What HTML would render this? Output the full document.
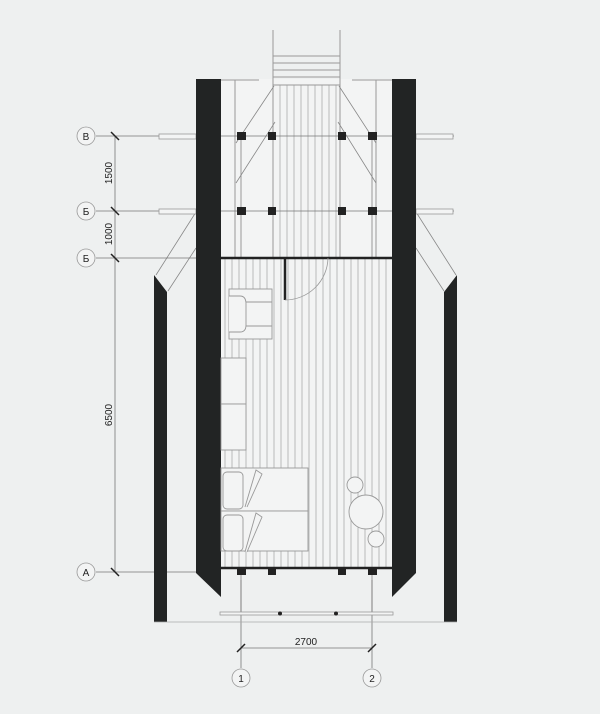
<!DOCTYPE html>
<html><head><meta charset="utf-8"><style>
html,body{margin:0;padding:0;background:#eef0f0;}
svg{display:block}
text{font-family:"Liberation Sans",sans-serif;fill:#222;}
</style></head><body>
<svg width="600" height="714" viewBox="0 0 600 714" xmlns="http://www.w3.org/2000/svg">
<rect width="600" height="714" fill="#eef0f0"/>
<!-- light interior between walls -->
<rect x="220" y="79" width="172" height="489" fill="#f3f4f4"/>
<!-- floor hatch room -->
<g stroke="#b8baba" stroke-width="1">
<path d="M225 258V568M232 258V568M239 258V568M246 258V568M253 258V568M260 258V568M267 258V568M274 258V568M281 258V568M288 258V568M295 258V568M302 258V568M309 258V568M316 258V568M323 258V568M330 258V568M337 258V568M344 258V568M351 258V568M358 258V568M365 258V568M372 258V568M379 258V568M386 258V568"/>
<!-- deck hatch -->
<path d="M280 85V258M287 85V258M294 85V258M301 85V258M308 85V258M315 85V258M322 85V258M329 85V258M336 85V258"/>
</g>
<!-- stairs -->
<g stroke="#999" stroke-width="1" fill="none">
<path d="M273 30V258M340 30V258M273 56H340M273 63H340M273 70H340M273 77H340M273 85H340"/>
<path d="M235 80V258M376 80V258M220 80H259M352 80H392"/>
<path d="M241 136V258M372 136V258M241 572V615M372 572V615"/>
</g>
<!-- diagonals -->
<g stroke="#888" stroke-width="0.8" fill="none">
<path d="M274 86L236 143M275 122L236 183M339 86L376 143M338 122L376 183"/>
<path d="M196 212L156 275M196 248L168 291M416 212L456 275M416 248L444 291"/>
</g>
<!-- grid lines -->
<g stroke="#777" stroke-width="0.8">
<path d="M96 136H454M96 211H454M96 258H220M96 572H196"/>
<path d="M241 580V668M372 580V668"/>
<path d="M115 136V572M241 648H372"/>
</g>
<!-- bars -->
<g fill="#f3f4f4" stroke="#999" stroke-width="0.8">
<rect x="159" y="134" width="37" height="5"/><rect x="159" y="209" width="37" height="5"/>
<rect x="416" y="134" width="37" height="5"/><rect x="416" y="209" width="37" height="5"/>
</g>
<!-- walls -->
<g fill="#222424">
<polygon points="196,79 221,79 221,597 196,573"/>
<polygon points="392,79 416,79 416,573 392,597"/>
<polygon points="154,275 167,292 167,622 154,622"/>
<polygon points="457,275 444,292 444,622 457,622"/>
</g>
<!-- room lines -->
<g stroke="#222" stroke-width="2.5" fill="none">
<path d="M221 258H392M221 568H392M285 258V300"/>
</g>
<path d="M285 300A43 43 0 0 0 328 258" stroke="#999" fill="none" stroke-width="0.8"/>
<!-- columns -->
<g fill="#222">
<rect x="237" y="132" width="9" height="8"/><rect x="268" y="132" width="8" height="8"/><rect x="338" y="132" width="8" height="8"/><rect x="368" y="132" width="9" height="8"/>
<rect x="237" y="207" width="9" height="8"/><rect x="268" y="207" width="8" height="8"/><rect x="338" y="207" width="8" height="8"/><rect x="368" y="207" width="9" height="8"/>
<rect x="237" y="569" width="9" height="6"/><rect x="268" y="569" width="8" height="6"/><rect x="338" y="569" width="8" height="6"/><rect x="368" y="569" width="9" height="6"/>
</g>
<!-- bottom rail -->
<rect x="220" y="612" width="173" height="3" fill="#f3f4f4" stroke="#999" stroke-width="0.8"/>
<circle cx="280" cy="613.5" r="2" fill="#222"/><circle cx="336" cy="613.5" r="2" fill="#222"/>
<path d="M154 622H457" stroke="#aaa" stroke-width="0.8"/>
<!-- furniture -->
<g fill="#f3f4f4" stroke="#999" stroke-width="0.9">
<rect x="229" y="289" width="43" height="50"/>
<path d="M229 296H240Q246 296 246 304V325Q246 332 240 332H229"/>
<path d="M246 302H272M246 326H272"/>
<rect x="221" y="358" width="25" height="46"/><rect x="221" y="404" width="25" height="46"/>
<rect x="221" y="468" width="87" height="43"/><rect x="221" y="511" width="87" height="40"/>
<rect x="223" y="472" width="20" height="37" rx="4"/><rect x="223" y="515" width="20" height="36" rx="4"/>
<path d="M245 507L256 470L262 474L247 507M245 552L256 513L262 517L247 552"/>
<circle cx="366" cy="512" r="17"/>
<circle cx="355" cy="485" r="8"/><circle cx="376" cy="539" r="8"/>
</g>
<!-- ticks -->
<g stroke="#222" stroke-width="1.5">
<path d="M111 132L119 140M111 207L119 215M111 254L119 262M111 568L119 576"/>
<path d="M237 652L245 644M368 652L376 644"/>
</g>
<!-- axis labels -->
<g fill="#f3f4f4" stroke="#999" stroke-width="0.8">
<circle cx="86" cy="136" r="9"/><circle cx="86" cy="211" r="9"/><circle cx="86" cy="258" r="9"/><circle cx="86" cy="572" r="9"/>
<circle cx="241" cy="678" r="9"/><circle cx="372" cy="678" r="9"/>
</g>
<g font-size="10" text-anchor="middle">
<text x="86" y="140">В</text><text x="86" y="215">Б</text><text x="86" y="262">Б</text><text x="86" y="576">А</text>
<text x="241" y="682">1</text><text x="372" y="682">2</text>
<text x="306" y="645">2700</text>
<text transform="translate(112,173) rotate(-90)">1500</text>
<text transform="translate(112,234) rotate(-90)">1000</text>
<text transform="translate(112,415) rotate(-90)">6500</text>
</g>
</svg>
</body></html>
